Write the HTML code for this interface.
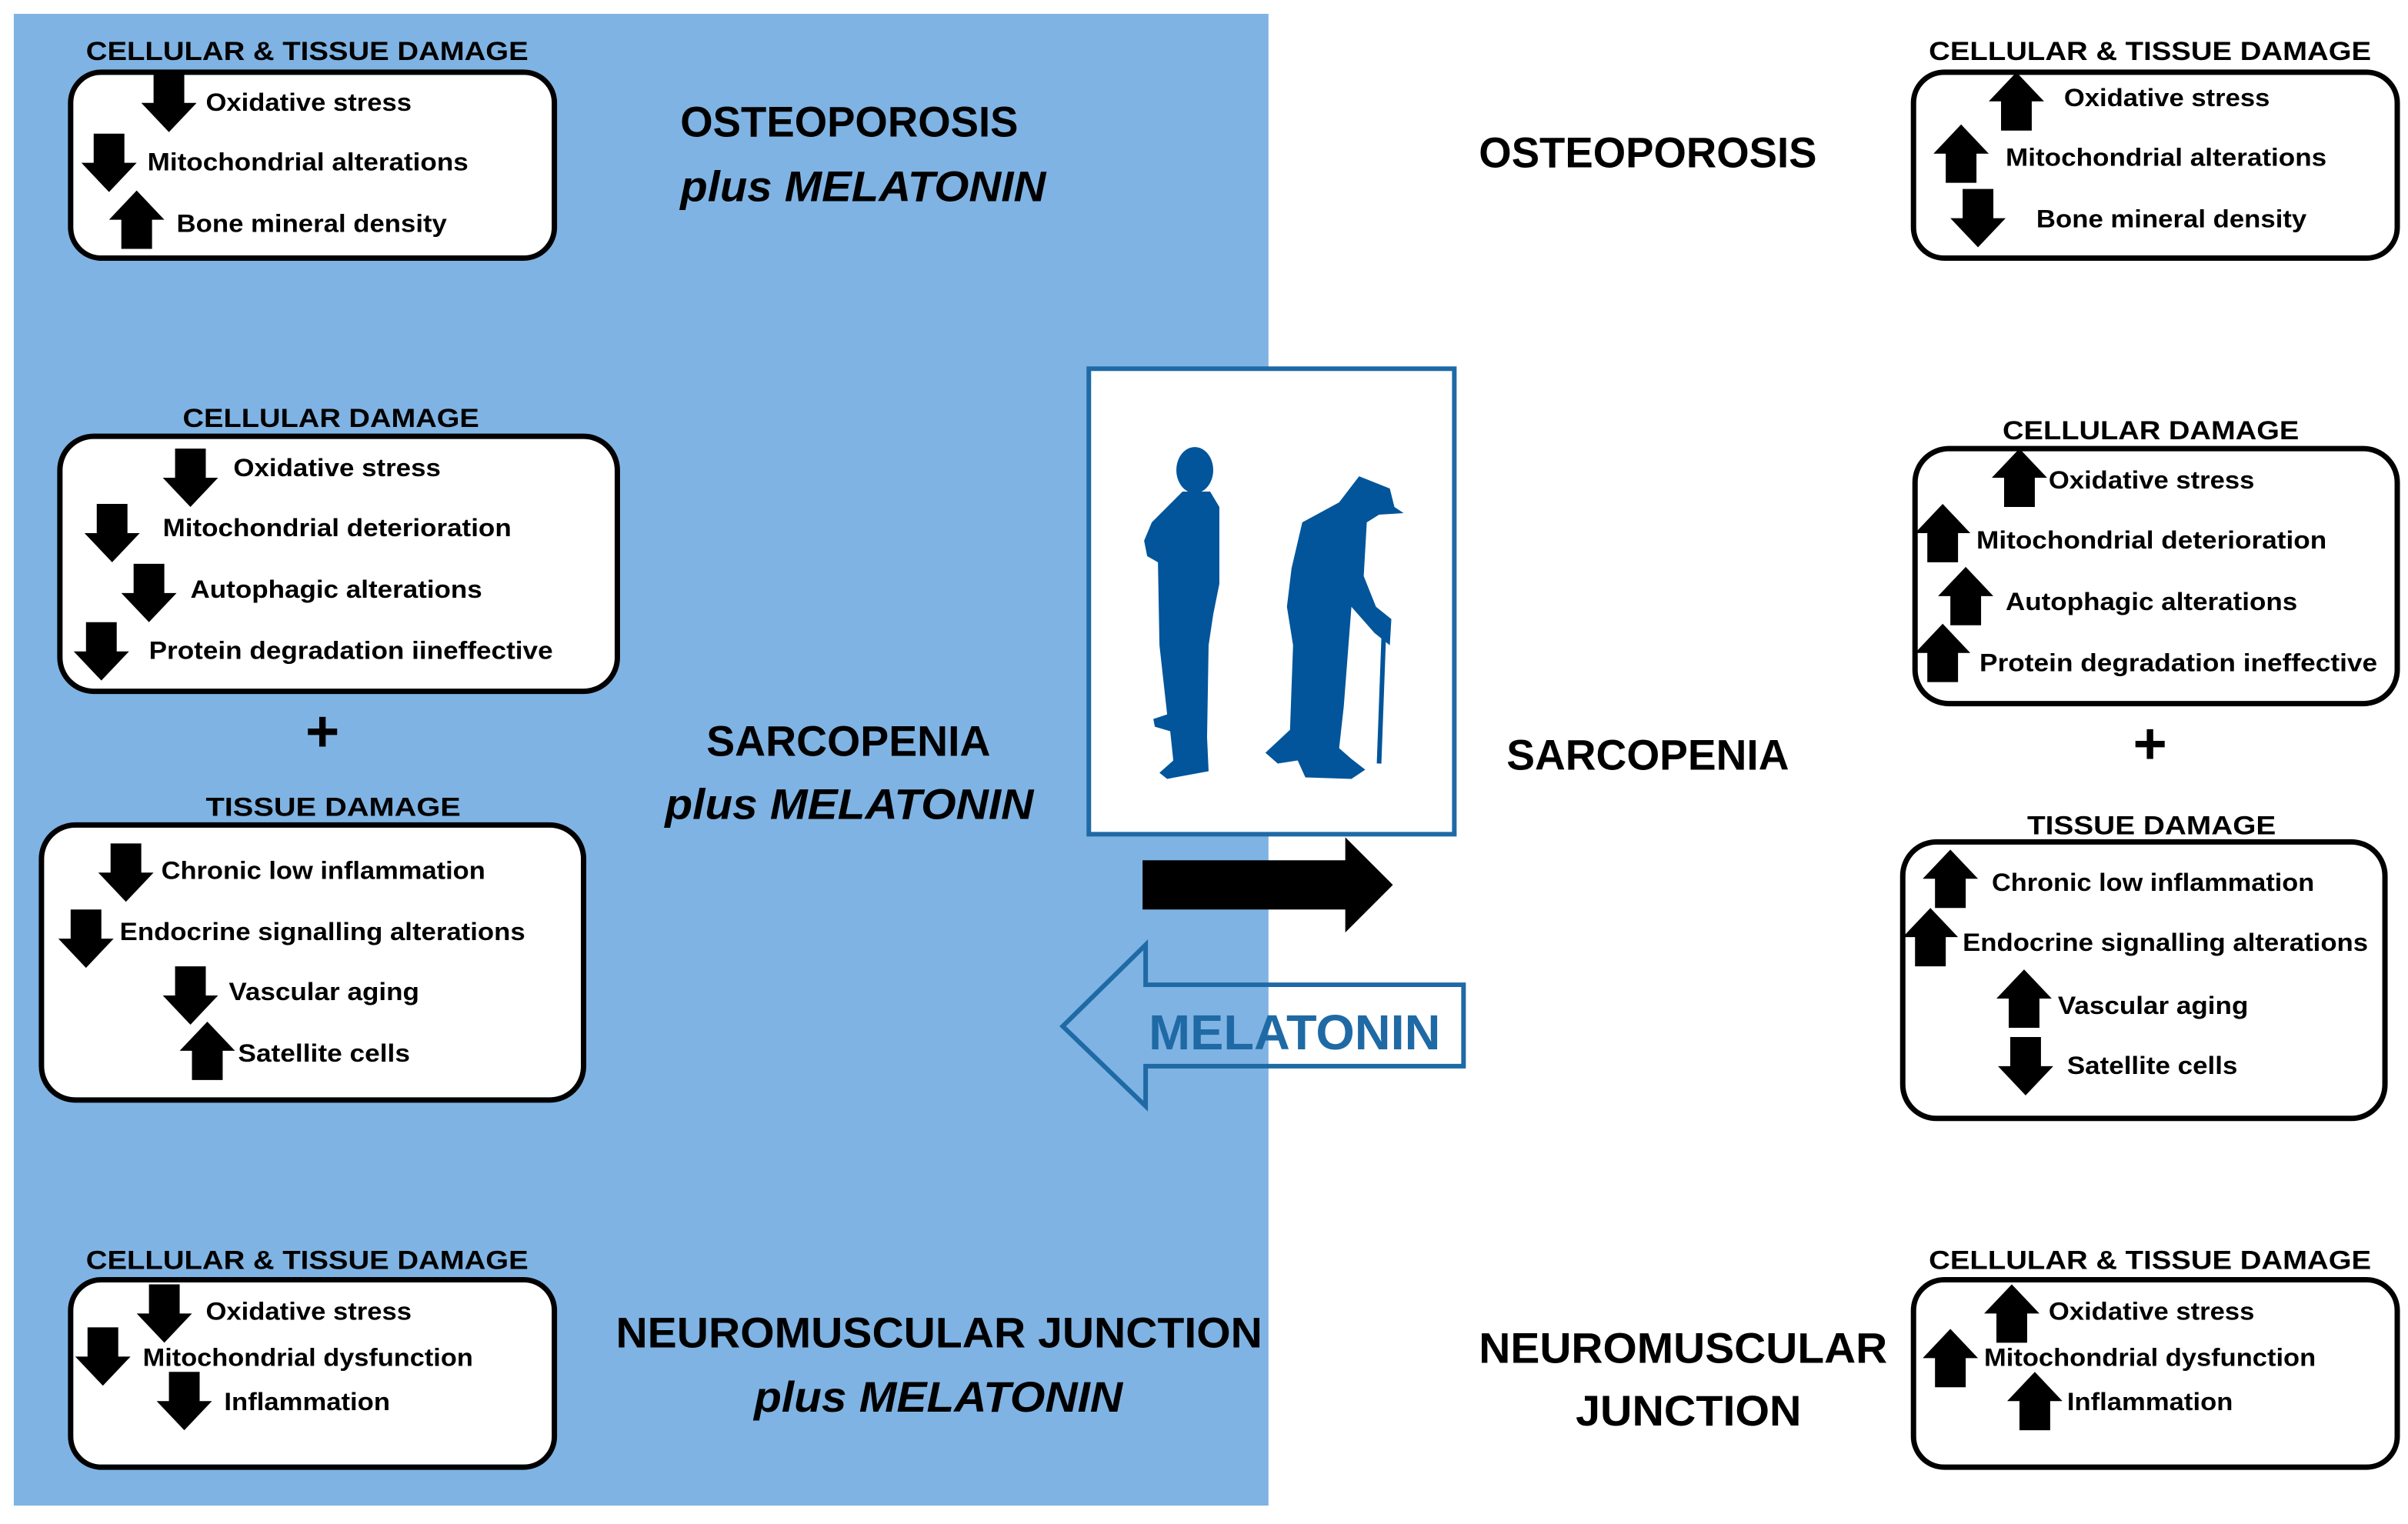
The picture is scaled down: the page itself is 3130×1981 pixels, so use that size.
<!DOCTYPE html>
<html><head><meta charset="utf-8"><style>
html,body{margin:0;padding:0;background:#fff;}
svg{display:block;}
.t{font-family:"Liberation Sans",sans-serif;font-weight:bold;font-size:16px;fill:#000;}
.ti{font-family:"Liberation Sans",sans-serif;font-size:17px;fill:#000;font-weight:bold;}
.h{font-family:"Liberation Sans",sans-serif;font-weight:bold;font-size:28px;fill:#000;text-anchor:start;}
.hi{font-family:"Liberation Sans",sans-serif;font-weight:bold;font-style:italic;font-size:28px;fill:#000;}
.box{fill:#fff;stroke:#000;stroke-width:3.5;}
</style></head><body>
<svg width="3130" height="1981" viewBox="0 0 1568 992" preserveAspectRatio="none" xmlns="http://www.w3.org/2000/svg">
<defs>
<path id="dn" d="M-10 0 H10 V19 H18 L0 38 L-18 19 H-10 Z"/>
<path id="up" d="M-10 38 H10 V19 H18 L0 0 L-18 19 H-10 Z"/>
</defs>
<rect x="0" y="0" width="1568" height="992" fill="#fff"/>
<rect x="9" y="9" width="817" height="971" fill="#7fb3e3"/>

<!-- LEFT box 1 -->
<text class="ti" x="56" y="39" textLength="288" lengthAdjust="spacingAndGlyphs">CELLULAR &amp; TISSUE DAMAGE</text>
<rect class="box" x="46" y="47" width="315" height="121" rx="20"/>
<use href="#dn" x="110" y="48"/><text class="t" x="134" y="72" textLength="134" lengthAdjust="spacingAndGlyphs">Oxidative stress</text>
<use href="#dn" x="71" y="87"/><text class="t" x="96" y="111" textLength="209" lengthAdjust="spacingAndGlyphs">Mitochondrial alterations</text>
<use href="#up" x="89" y="124"/><text class="t" x="115" y="151" textLength="176" lengthAdjust="spacingAndGlyphs">Bone mineral density</text>

<text class="h" x="443" y="89" textLength="220" lengthAdjust="spacingAndGlyphs">OSTEOPOROSIS</text>
<text class="hi" x="443" y="131" textLength="238" lengthAdjust="spacingAndGlyphs">plus MELATONIN</text>

<!-- LEFT box 2 -->
<text class="ti" x="119" y="278" textLength="193" lengthAdjust="spacingAndGlyphs">CELLULAR DAMAGE</text>
<rect class="box" x="39" y="284" width="363" height="166" rx="22"/>
<use href="#dn" x="124" y="292"/><text class="t" x="152" y="310" textLength="135" lengthAdjust="spacingAndGlyphs">Oxidative stress</text>
<use href="#dn" x="73" y="328"/><text class="t" x="106" y="349" textLength="227" lengthAdjust="spacingAndGlyphs">Mitochondrial deterioration</text>
<use href="#dn" x="97" y="367"/><text class="t" x="124" y="389" textLength="190" lengthAdjust="spacingAndGlyphs">Autophagic alterations</text>
<use href="#dn" x="66" y="405"/><text class="t" x="97" y="429" textLength="263" lengthAdjust="spacingAndGlyphs">Protein degradation iineffective</text>
<text x="210" y="489" font-family="Liberation Sans, sans-serif" font-weight="bold" font-size="38" text-anchor="middle">+</text>

<!-- LEFT box 3 -->
<text class="ti" x="134" y="531" textLength="166" lengthAdjust="spacingAndGlyphs">TISSUE  DAMAGE</text>
<rect class="box" x="27" y="537" width="353" height="179" rx="22"/>
<use href="#dn" x="82" y="549"/><text class="t" x="105" y="572" textLength="211" lengthAdjust="spacingAndGlyphs">Chronic low inflammation</text>
<use href="#dn" x="56" y="592"/><text class="t" x="78" y="612" textLength="264" lengthAdjust="spacingAndGlyphs">Endocrine signalling alterations</text>
<use href="#dn" x="124" y="629"/><text class="t" x="149" y="651" textLength="124" lengthAdjust="spacingAndGlyphs">Vascular aging</text>
<use href="#up" x="135" y="665"/><text class="t" x="155" y="691" textLength="112" lengthAdjust="spacingAndGlyphs">Satellite cells</text>

<text class="h" x="460" y="492" textLength="185" lengthAdjust="spacingAndGlyphs">SARCOPENIA</text>
<text class="hi" x="433" y="533" textLength="240" lengthAdjust="spacingAndGlyphs">plus MELATONIN</text>

<!-- LEFT box 4 -->
<text class="ti" x="56" y="826" textLength="288" lengthAdjust="spacingAndGlyphs">CELLULAR &amp; TISSUE DAMAGE</text>
<rect class="box" x="46" y="833" width="315" height="122" rx="20"/>
<use href="#dn" x="107" y="836"/><text class="t" x="134" y="859" textLength="134" lengthAdjust="spacingAndGlyphs">Oxidative stress</text>
<use href="#dn" x="67" y="864"/><text class="t" x="93" y="889" textLength="215" lengthAdjust="spacingAndGlyphs">Mitochondrial dysfunction</text>
<use href="#dn" x="120" y="893"/><text class="t" x="146" y="918" textLength="108" lengthAdjust="spacingAndGlyphs">Inflammation</text>

<text class="h" x="401" y="877" textLength="421" lengthAdjust="spacingAndGlyphs">NEUROMUSCULAR JUNCTION</text>
<text class="hi" x="491" y="919" textLength="240" lengthAdjust="spacingAndGlyphs">plus MELATONIN</text>

<!-- CENTER -->
<rect x="709" y="240" width="238" height="303" fill="#fff" stroke="#1f6aa5" stroke-width="3"/>
<g fill="#02559a">
<ellipse cx="778" cy="306" rx="12" ry="15"/>
<path d="M770,320 L763,327 L750,340 L745,352 L747,362 L754,366 L755,420 L760,465 L751,468 L752,473 L762,476 L764,495 L755,503 L760,507 L787,502 L786,480 L787,420 L790,400 L794,380 L794,330 L788,320 Z"/>
<path d="M885,310 L905,318 L908,330 L914,334 L898,335 L890,340 L888,375 L896,395 L906,403 L905,420 L895,412 L880,395 L875,460 L872,487 L880,494 L889,501 L880,507 L850,506 L845,495 L832,497 L824,490 L840,475 L842,420 L838,395 L841,370 L848,340 L872,327 Z"/>
<line x1="901" y1="415" x2="898" y2="497" stroke="#02559a" stroke-width="3"/>
</g>
<path d="M744,560 H876 V545 L907,576 L876,607 V592 H744 Z" fill="#000"/>
<path d="M692,668 L746,615 V641 H953 V694 H746 V720 Z" fill="none" stroke="#1f6aa5" stroke-width="3"/>
<text x="843" y="683" text-anchor="middle" font-family="Liberation Sans, sans-serif" font-weight="bold" font-size="32" fill="#1f6aa5" textLength="190" lengthAdjust="spacingAndGlyphs">MELATONIN</text>

<!-- RIGHT -->
<text class="h" x="963" y="109" textLength="220" lengthAdjust="spacingAndGlyphs">OSTEOPOROSIS</text>
<text class="ti" x="1256" y="39" textLength="288" lengthAdjust="spacingAndGlyphs">CELLULAR &amp; TISSUE DAMAGE</text>
<rect class="box" x="1246" y="47" width="315" height="121" rx="20"/>
<use href="#up" x="1313" y="47"/><text class="t" x="1344" y="69" textLength="134" lengthAdjust="spacingAndGlyphs">Oxidative stress</text>
<use href="#up" x="1277" y="81"/><text class="t" x="1306" y="108" textLength="209" lengthAdjust="spacingAndGlyphs">Mitochondrial alterations</text>
<use href="#dn" x="1288" y="123"/><text class="t" x="1326" y="148" textLength="176" lengthAdjust="spacingAndGlyphs">Bone mineral density</text>

<text class="ti" x="1304" y="286" textLength="193" lengthAdjust="spacingAndGlyphs">CELLULAR DAMAGE</text>
<rect class="box" x="1247" y="292" width="314" height="166" rx="22"/>
<use href="#up" x="1315" y="292"/><text class="t" x="1334" y="318" textLength="134" lengthAdjust="spacingAndGlyphs">Oxidative stress</text>
<use href="#up" x="1265" y="328"/><text class="t" x="1287" y="357" textLength="228" lengthAdjust="spacingAndGlyphs">Mitochondrial deterioration</text>
<use href="#up" x="1280" y="369"/><text class="t" x="1306" y="397" textLength="190" lengthAdjust="spacingAndGlyphs">Autophagic alterations</text>
<use href="#up" x="1265" y="406"/><text class="t" x="1289" y="437" textLength="259" lengthAdjust="spacingAndGlyphs">Protein degradation ineffective</text>
<text x="1400" y="497" font-family="Liberation Sans, sans-serif" font-weight="bold" font-size="38" text-anchor="middle">+</text>
<text class="h" x="981" y="501" textLength="184" lengthAdjust="spacingAndGlyphs">SARCOPENIA</text>

<text class="ti" x="1320" y="543" textLength="162" lengthAdjust="spacingAndGlyphs">TISSUE DAMAGE</text>
<rect class="box" x="1239" y="548" width="314" height="180" rx="22"/>
<use href="#up" x="1270" y="553"/><text class="t" x="1297" y="580" textLength="210" lengthAdjust="spacingAndGlyphs">Chronic low inflammation</text>
<use href="#up" x="1257" y="591"/><text class="t" x="1278" y="619" textLength="264" lengthAdjust="spacingAndGlyphs">Endocrine signalling alterations</text>
<use href="#up" x="1318" y="631"/><text class="t" x="1340" y="660" textLength="124" lengthAdjust="spacingAndGlyphs">Vascular aging</text>
<use href="#dn" x="1319" y="675"/><text class="t" x="1346" y="699" textLength="111" lengthAdjust="spacingAndGlyphs">Satellite cells</text>

<text class="h" x="963" y="887" textLength="266" lengthAdjust="spacingAndGlyphs">NEUROMUSCULAR</text>
<text class="h" x="1026" y="928" textLength="147" lengthAdjust="spacingAndGlyphs">JUNCTION</text>
<text class="ti" x="1256" y="826" textLength="288" lengthAdjust="spacingAndGlyphs">CELLULAR &amp; TISSUE DAMAGE</text>
<rect class="box" x="1246" y="833" width="315" height="122" rx="20"/>
<use href="#up" x="1310" y="836"/><text class="t" x="1334" y="859" textLength="134" lengthAdjust="spacingAndGlyphs">Oxidative stress</text>
<use href="#up" x="1270" y="865"/><text class="t" x="1292" y="889" textLength="216" lengthAdjust="spacingAndGlyphs">Mitochondrial dysfunction</text>
<use href="#up" x="1325" y="893"/><text class="t" x="1346" y="918" textLength="108" lengthAdjust="spacingAndGlyphs">Inflammation</text>
</svg>
</body></html>
